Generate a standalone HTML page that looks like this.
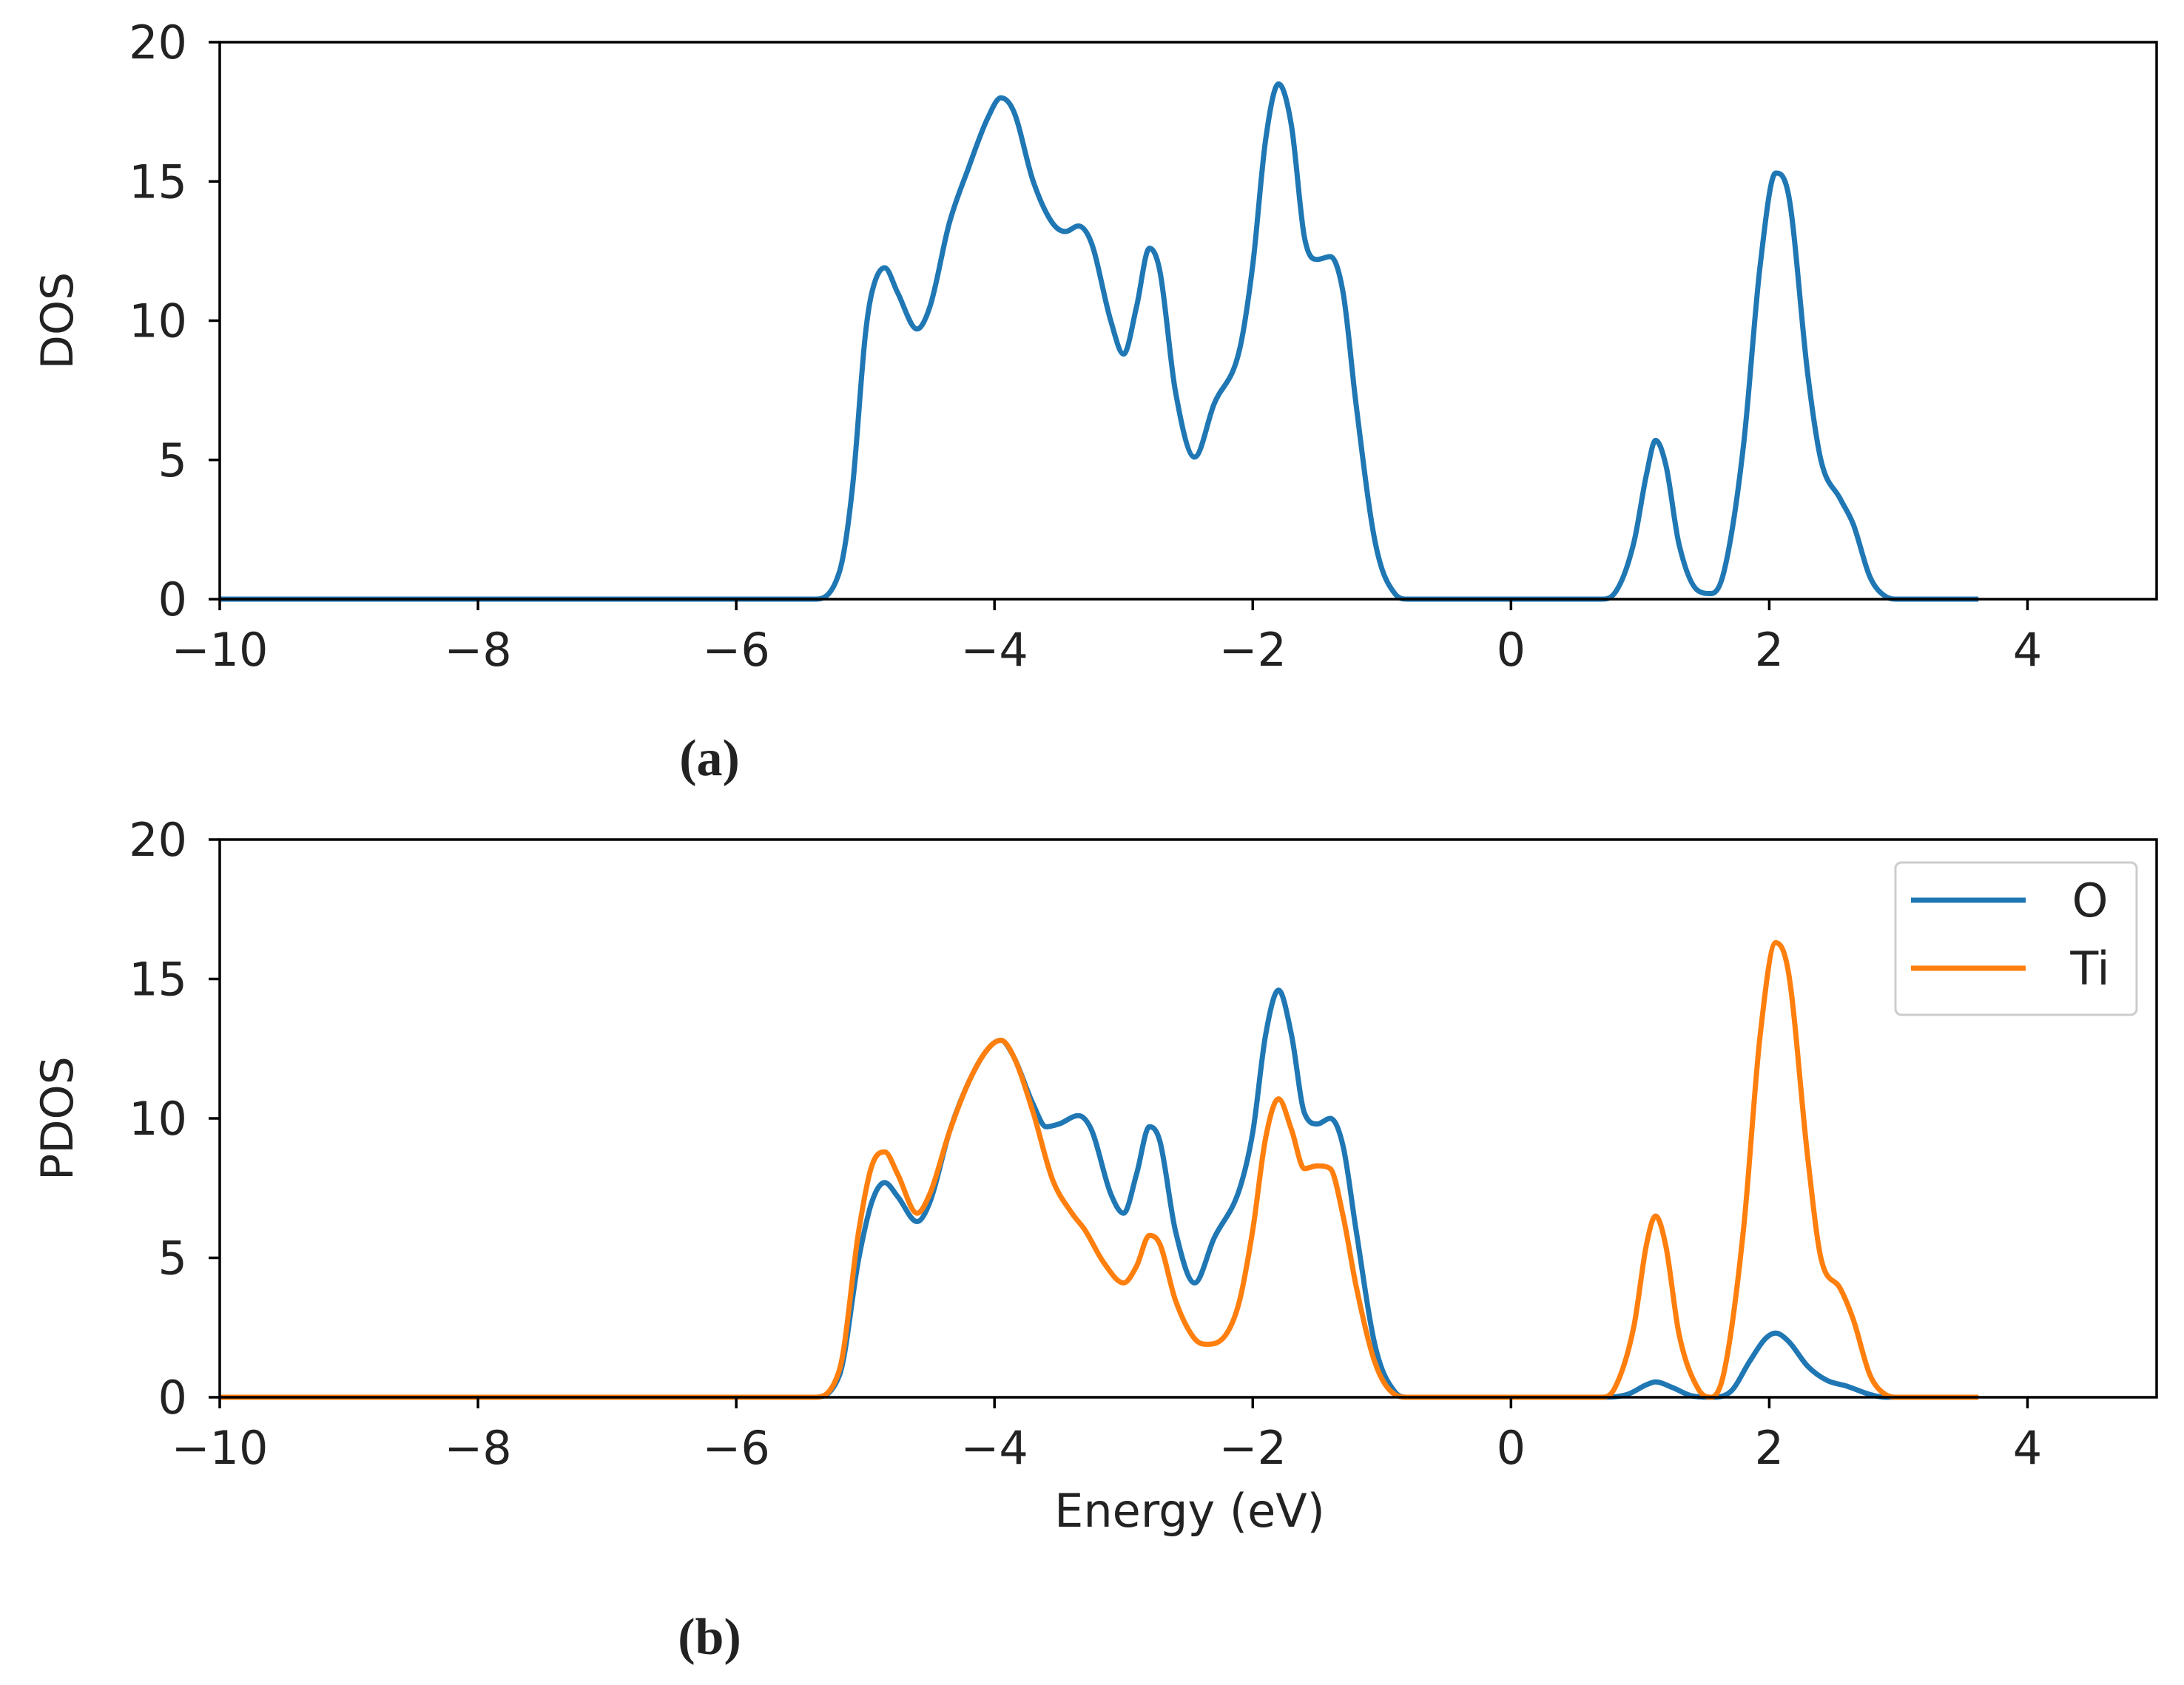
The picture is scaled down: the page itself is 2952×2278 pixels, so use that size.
<!DOCTYPE html>
<html><head><meta charset="utf-8"><style>
html,body{margin:0;padding:0;background:#fff;}
svg{display:block;}
text{font-family:"DejaVu Sans","Liberation Sans",sans-serif;fill:#222;}
</style></head><body>
<svg id="fig" width="2952" height="2278" viewBox="0 0 2952 2278" xmlns="http://www.w3.org/2000/svg">
<g id="pa"></g>
<g id="pb"></g>
<text x="959" y="1048" text-anchor="middle" font-size="70" font-weight="bold" style="font-family:'Liberation Serif',serif">(a)</text>
<text x="959" y="2236" text-anchor="middle" font-size="70" font-weight="bold" style="font-family:'Liberation Serif',serif">(b)</text>
</svg>
<script>
const xTicks=[-10,-8,-6,-4,-2,0,2,4];
const xTickLabels=["\u221210","\u22128","\u22126","\u22124","\u22122","0","2","4"];
const yTicks=[0,5,10,15,20];
const yTickLabels=["0","5","10","15","20"];
const dosE=[-10,-5.4,-5.2,-5.1,-5.0,-4.95,-4.85,-4.75,-4.6,-4.5,-4.35,-4.2,-4.05,-3.95,-3.85,-3.7,-3.55,-3.45,-3.35,-3.25,-3.1,-3.0,-2.9,-2.8,-2.72,-2.6,-2.45,-2.3,-2.1,-2.0,-1.9,-1.8,-1.7,-1.6,-1.5,-1.4,-1.3,-1.2,-1.05,-0.9,-0.8,0.7,0.8,0.95,1.05,1.12,1.2,1.3,1.45,1.55,1.65,1.8,1.93,2.05,2.15,2.3,2.4,2.55,2.65,2.78,2.9,3.0,3.62];
const dosV=[0,0,1,4,9.5,11,11.9,11,9.7,10.5,13.5,15.5,17.3,18,17.5,15,13.5,13.2,13.4,12.8,10,8.8,10.5,12.6,11.8,7.5,5.1,7,9,12,16.5,18.5,17,13,12.2,12.3,11,7,2,0.2,0,0,0.2,2,4.5,5.7,4.8,2,0.3,0.2,1,5.5,12,15.3,14.5,8,5,3.6,2.7,0.8,0.1,0,0];
const tiE=[-10,-5.4,-5.2,-5.05,-4.95,-4.85,-4.75,-4.6,-4.5,-4.35,-4.2,-4.05,-3.95,-3.85,-3.7,-3.55,-3.4,-3.3,-3.15,-3.0,-2.9,-2.8,-2.72,-2.6,-2.45,-2.35,-2.2,-2.1,-2.0,-1.9,-1.8,-1.7,-1.6,-1.5,-1.4,-1.3,-1.2,-1.05,-0.9,-0.8,0.7,0.8,0.95,1.05,1.12,1.2,1.3,1.45,1.55,1.65,1.8,1.93,2.05,2.15,2.3,2.4,2.55,2.65,2.78,2.9,3.0,3.62];
const tiV=[0,0,1,6,8.3,8.8,8,6.6,7.3,9.5,11.3,12.5,12.8,12.2,10.2,7.8,6.6,6,4.8,4.1,4.7,5.8,5.5,3.5,2.1,1.9,2.3,3.5,6,9.3,10.7,9.6,8.2,8.3,8.2,6.5,4,1.2,0.1,0,0,0.3,2.5,5.5,6.5,5.4,2.3,0.3,0,0.9,6,13,16.3,15.2,8.5,5,3.9,2.8,0.8,0.1,0,0];
const oE=[-10,-5.4,-5.2,-5.05,-4.95,-4.85,-4.75,-4.6,-4.5,-4.35,-4.2,-4.05,-3.95,-3.85,-3.7,-3.6,-3.5,-3.35,-3.25,-3.1,-3.0,-2.9,-2.8,-2.72,-2.6,-2.45,-2.3,-2.1,-2.0,-1.9,-1.8,-1.7,-1.6,-1.5,-1.4,-1.3,-1.2,-1.05,-0.9,-0.8,0.7,0.9,1.05,1.12,1.25,1.4,1.55,1.7,1.85,1.97,2.05,2.15,2.3,2.45,2.6,2.78,2.9,3.62];
const oV=[0,0,0.8,5,7,7.7,7.2,6.3,7,9.5,11.3,12.5,12.8,12.2,10.5,9.7,9.8,10.1,9.6,7.3,6.6,8,9.7,9.2,6,4.1,5.7,7.5,9.5,13,14.6,13,10.2,9.8,10,9,6,1.8,0.2,0,0,0.1,0.45,0.55,0.35,0.05,0,0.2,1.3,2.1,2.3,2.0,1.1,0.6,0.4,0.1,0,0];

const NS="http://www.w3.org/2000/svg";
const L=297,R=2915;
function mk(tag,attrs,parent){const e=document.createElementNS(NS,tag);for(const k in attrs)e.setAttribute(k,attrs[k]);parent.appendChild(e);return e;}
function monotone(xs,ys){
  const n=xs.length,d=[],m=new Array(n);
  for(let i=0;i<n-1;i++)d.push((ys[i+1]-ys[i])/(xs[i+1]-xs[i]));
  m[0]=d[0];m[n-1]=d[n-2];
  for(let i=1;i<n-1;i++){m[i]=(d[i-1]*d[i]<=0)?0:(d[i-1]+d[i])/2;}
  for(let i=0;i<n-1;i++){if(d[i]===0){m[i]=0;m[i+1]=0;continue;}
    const a=m[i]/d[i],b=m[i+1]/d[i],s=a*a+b*b;if(s>9){const t=3/Math.sqrt(s);m[i]=t*a*d[i];m[i+1]=t*b*d[i];}}
  return m;
}
function curve(xs,ys,sx,sy){
  const m=monotone(xs,ys);let p="";
  for(let i=0;i<xs.length-1;i++){
    const h=xs[i+1]-xs[i];
    const x1=xs[i]+h/3,y1=ys[i]+m[i]*h/3,x2=xs[i+1]-h/3,y2=ys[i+1]-m[i+1]*h/3;
    if(i===0)p+="M"+sx(xs[0]).toFixed(1)+","+sy(ys[0]).toFixed(1);
    p+="C"+sx(x1).toFixed(1)+","+sy(y1).toFixed(1)+" "+sx(x2).toFixed(1)+","+sy(y2).toFixed(1)+" "+sx(xs[i+1]).toFixed(1)+","+sy(ys[i+1]).toFixed(1);
  }
  return p;
}
function panel(g,T,B,ylabel,series){
  const sx=v=>L+(v+10)/15*(R-L);
  const sy=v=>B-v/20*(B-T);
  for(const s of series){
    const p=mk("path",{d:curve(s.e,s.v,sx,sy),fill:"none",stroke:s.c,"stroke-width":7,"stroke-linejoin":"round"},g);
    
    
  }
  const fr=mk("rect",{x:L,y:T,width:R-L,height:B-T,fill:"none",stroke:"#000","stroke-width":3.5},g);
  
  
  xTicks.forEach((v,i)=>{
    const x=sx(v);
    const t=mk("line",{x1:x,x2:x,y1:B,y2:B+15,stroke:"#000","stroke-width":3.5},g);
    
    
    const tx=mk("text",{x:x,y:B+90,"text-anchor":"middle","font-size":62},g);
    tx.textContent=xTickLabels[i];
    
    
  });
  yTicks.forEach((v,i)=>{
    const y=sy(v);
    const t=mk("line",{x1:L-15,x2:L,y1:y,y2:y,stroke:"#000","stroke-width":3.5},g);
    
    
    const tx=mk("text",{x:L-44,y:y+22,"text-anchor":"end","font-size":62},g);
    tx.textContent=yTickLabels[i];
    
    
  });
  const yl=mk("text",{x:0,y:0,"text-anchor":"middle","font-size":60,transform:"translate(98,"+((T+B)/2)+") rotate(-90)"},g);
  yl.textContent=ylabel;
  
  
}
const pa=document.getElementById("pa"),pb=document.getElementById("pb");
panel(pa,57,810,"DOS",[{e:dosE,v:dosV,c:"#1f77b4",name:"dos-line"}]);
panel(pb,1135,1889,"PDOS",[{e:oE,v:oV,c:"#1f77b4",name:"o-pdos-line"},{e:tiE,v:tiV,c:"#ff7f0e",name:"ti-pdos-line"}]);
const xl=mk("text",{x:1608,y:2064,"text-anchor":"middle","font-size":62},pb);
xl.textContent="Energy (eV)";


const lg=mk("g",{},pb);


mk("rect",{x:2562,y:1166,width:326,height:206,rx:8,fill:"#fff",stroke:"#ccc","stroke-width":3},lg);
const l1=mk("line",{x1:2583,x2:2738,y1:1217,y2:1217,stroke:"#1f77b4","stroke-width":7},lg);


const t1=mk("text",{x:2825,y:1239,"text-anchor":"middle","font-size":62},lg);t1.textContent="O";


const l2=mk("line",{x1:2583,x2:2738,y1:1309,y2:1309,stroke:"#ff7f0e","stroke-width":7},lg);


const t2=mk("text",{x:2825,y:1331,"text-anchor":"middle","font-size":62},lg);t2.textContent="Ti";


</script>
</body></html>
